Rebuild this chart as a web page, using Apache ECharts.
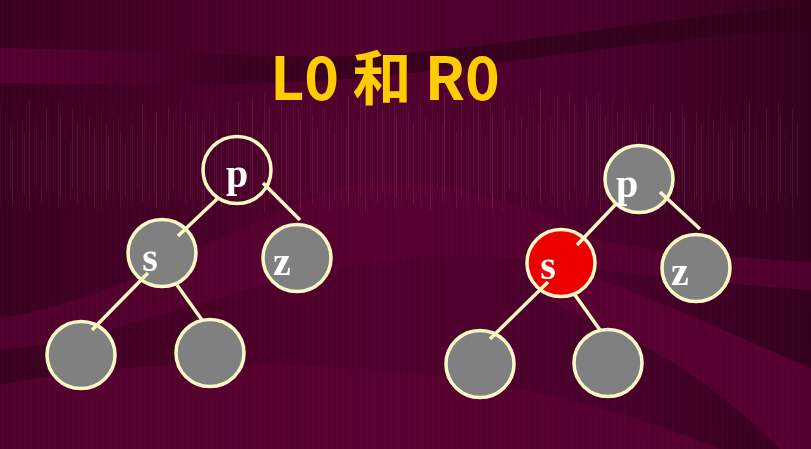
<!DOCTYPE html>
<html>
<head>
<meta charset="utf-8">
<script src="https://cdn.jsdelivr.net/npm/echarts@6/dist/echarts.min.js"></script>
<style>html,body{margin:0;padding:0;background:#45002a;}#c{width:811px;height:449px;}</style>
</head>
<body>
<div id="c"></div>
<script>
// ---- data ----
var titleText = 'L0 和 R0';
// node centres [x, y] in slide units (x right, y down)
var nodeNames = ['pL','sL','zL','aL','bL','pR','sR','zR','aR','bR'];
var nodeX = [237, 162, 297, 81, 210, 639, 561, 696, 480, 608];
var nodeY = [170, 253, 258, 355, 353, 179, 263, 268, 364, 363];
var nodeFill = ['none','gray','gray','gray','gray','gray','red','gray','gray','gray'];
// edges: [x1, y1, x2, y2]
var edges = [
  [217, 199, 178, 236],
  [263, 183, 300, 220],
  [148, 273, 92, 330],
  [177, 285, 202, 320],
  [617, 203, 577, 245],
  [660, 192, 700, 229],
  [548, 282, 490, 339],
  [575, 295, 600, 330]
];
// letters
var letterX = [237, 150, 282, 627, 548, 680];
var letterY = [177, 261, 265, 187, 269, 275];
var letterText = ['p', 's', 'z', 'p', 's', 'z'];

var fillColor = { none: 'rgba(0,0,0,0)', gray: '#808080', red: '#EE0000' };
var cream = '#FCF8C6';

function lin(stops) {
  return { type: 'linear', x: 0, y: 0, x2: 1, y2: 0, colorStops: stops };
}
// turn a simple "M x,y C ... L ... Z" string into polygon points
function pathPoints(d) {
  var tok = d.replace(/,/g, ' ').match(/[MCLZ]|-?[\d.]+/g);
  var pts = [], cur = [0, 0], k = 0, cmd = '';
  function num() { return parseFloat(tok[k++]); }
  while (k < tok.length) {
    if (/[MCLZ]/.test(tok[k])) { cmd = tok[k++]; if (cmd === 'Z') continue; }
    if (cmd === 'M' || cmd === 'L') { cur = [num(), num()]; pts.push(cur.slice()); }
    else if (cmd === 'C') {
      var c1 = [num(), num()], c2 = [num(), num()], e = [num(), num()];
      for (var t = 1; t <= 20; t++) {
        var u = t / 20, m = 1 - u;
        pts.push([
          m*m*m*cur[0] + 3*m*m*u*c1[0] + 3*m*u*u*c2[0] + u*u*u*e[0],
          m*m*m*cur[1] + 3*m*m*u*c1[1] + 3*m*u*u*c2[1] + u*u*u*e[1]]);
      }
      cur = e;
    } else { k++; }
  }
  return pts;
}

(function () {
var chart = echarts.init(document.getElementById('c'));

// decorative background
var bg = [];
bg.push({ type: 'rect', z: -10, shape: { x: 0, y: 0, width: 811, height: 449 },
  style: { fill: lin([
    { offset: 0, color: '#3a0020' }, { offset: 0.45, color: '#52002d' },
    { offset: 0.75, color: '#48002a' }, { offset: 1, color: '#35001d' }]) } });
function band(d, style) {
  bg.push({ type: 'polygon', z: -9, silent: true, shape: { points: pathPoints(d) }, style: style });
}
band('M0,48 C200,52 300,62 420,52 C560,38 680,15 811,6 L811,30 C680,36 560,56 420,72 C300,86 200,86 0,83 Z',
  { fill: lin([
    { offset: 0, color: '#580031' }, { offset: 0.18, color: '#4a0029' },
    { offset: 0.3, color: '#3a0020' }, { offset: 1, color: '#32001b' }]) });
band('M0,318 C120,300 220,230 340,188 C420,170 520,200 600,240 C680,255 740,258 811,262 L811,290 C700,282 620,272 560,264 C480,252 400,252 300,276 C200,300 100,340 0,350 Z',
  { fill: '#5a0031', opacity: 0.75 });
band('M540,262 C620,280 720,330 811,368 L811,449 L780,449 C730,400 680,360 600,325 C570,312 550,300 540,290 Z',
  { fill: '#5c0032', opacity: 0.85 });
band('M0,385 C150,355 320,360 480,382 C580,398 660,425 720,449 L0,449 Z',
  { fill: '#5a0031', opacity: 0.8 });
for (var i = 0; i < 200; i++) {
  var sx = i * 4 + (i * 7 % 3);
  var sTop = 100 + ((i * 13) % 45) - (sx > 250 && sx < 650 ? 10 : 0);
  var sBot = 212 - ((i * 11) % 25);
  bg.push({ type: 'line', z: -8, silent: true, shape: { x1: sx + 0.5, y1: sTop, x2: sx + 0.5, y2: sBot },
    style: { stroke: '#ffd0e0', lineWidth: 1, opacity: 0.03 + ((i * 5) % 4) * 0.025 } });
  bg.push({ type: 'line', z: -8, silent: true, shape: { x1: sx + 2.5, y1: 0, x2: sx + 2.5, y2: 449 },
    style: { stroke: '#ffc0d8', lineWidth: 1, opacity: 0.02 + ((i * 3) % 3) * 0.01 } });
}
bg.push({ type: 'text', z: 100, style: { x: 385, y: 78, text: titleText, textAlign: 'center', textVerticalAlign: 'middle',
  fill: '#FFCC00', font: 'bold 59px "Noto Sans CJK SC", "Noto Sans", sans-serif' } });

var nodeData = nodeNames.map(function (n, k) {
  return { name: n, value: [nodeX[k], nodeY[k]],
    itemStyle: { color: fillColor[nodeFill[k]] } };
});

var series = [
  { type: 'scatter', z: 2, symbol: 'circle', symbolSize: [68, 67],
    itemStyle: { borderColor: cream, borderWidth: 3.5, opacity: 1 },
    data: nodeData }
];
edges.forEach(function (e) {
  series.push({ type: 'line', z: 3, symbol: 'none', silent: true,
    lineStyle: { color: cream, width: 3.5 },
    data: [[e[0], e[1]], [e[2], e[3]]] });
});
series.push({ type: 'scatter', z: 4, symbolSize: 2, itemStyle: { color: 'rgba(0,0,0,0)', opacity: 1 },
  label: { show: true, position: 'inside', opacity: 1,
    formatter: function (p) { return letterText[p.dataIndex]; },
    color: '#ffffff', fontFamily: '"Liberation Serif", "DejaVu Serif", serif', fontWeight: 'bold', fontSize: 40,
    textBorderColor: 'rgba(0,0,0,0)', textBorderWidth: 0,
    textShadowColor: 'rgba(50,70,150,0.9)', textShadowBlur: 0, textShadowOffsetX: -1, textShadowOffsetY: 1 },
  data: letterX.map(function (x, k) { return [x, letterY[k]]; }) });

chart.setOption({
  animation: false,
  graphic: { elements: bg },
  grid: { left: 0, right: 0, top: 0, bottom: 0 },
  xAxis: { type: 'value', min: 0, max: 811, show: false },
  yAxis: { type: 'value', min: 0, max: 449, inverse: true, show: false },
  series: series
});
})();
</script>
</body>
</html>
